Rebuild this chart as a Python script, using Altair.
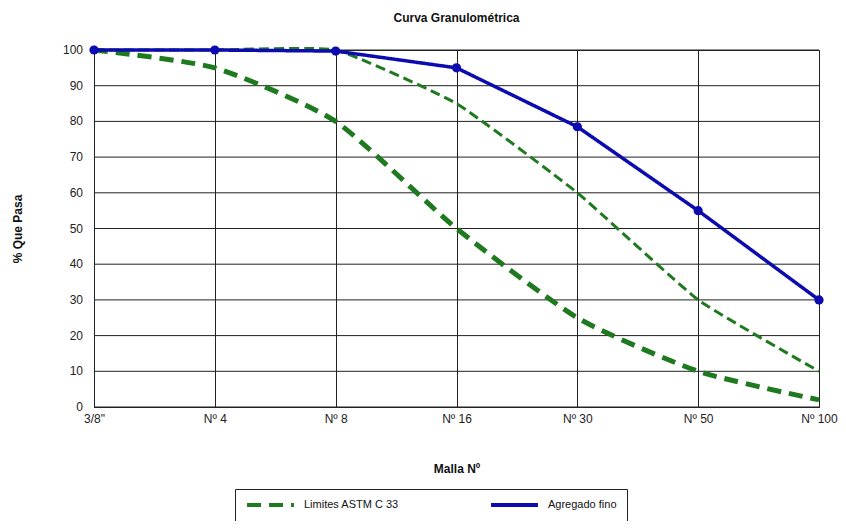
import altair as alt
import pandas as pd

mallas = ['3/8"', "Nº 4", "Nº 8", "Nº 16", "Nº 30", "Nº 50", "Nº 100"]
limite_superior = [100, 100, 100, 85, 60, 30, 10]
limite_inferior = [100, 95, 80, 50, 25, 10, 2]
agregado_fino = [100, 100, 99.7, 95, 78.5, 55, 30]
y_ticks = [0, 10, 20, 30, 40, 50, 60, 70, 80, 90, 100]

GREEN = "#1f7a1f"
BLUE = "#0b0bb0"
SER_LIM = "Limites ASTM C 33"
SER_AG = "Agregado fino"

df_inf = pd.DataFrame({"malla": mallas, "pasa": limite_inferior, "serie": SER_LIM})
df_sup = pd.DataFrame({"malla": mallas, "pasa": limite_superior, "serie": SER_LIM})
df_ag = pd.DataFrame({"malla": mallas, "pasa": agregado_fino, "serie": SER_AG})
df_grid = pd.DataFrame({"pasa": y_ticks})

FONT = "Liberation Sans"

x_enc = alt.X("malla:N", sort=mallas,
              scale=alt.Scale(type="point", padding=0),
              axis=alt.Axis(title="Malla  Nº", labelAngle=0, grid=True, gridColor="#222222",
                            gridOpacity=1, ticks=False, labelPadding=6, titlePadding=39,
                            domainColor="#222222", labelFontSize=12, titleFontSize=12,
                            titleFontWeight="bold", labelColor="#222", titleColor="#111"))
y_scale = alt.Scale(domain=[0, 100], nice=False)
y_axis = alt.Axis(title="% Que Pasa", labels=False, grid=False, ticks=False,
                  titlePadding=70, domainColor="#222222", titleFontSize=12,
                  titleFontWeight="bold", titleColor="#111")
y_enc = alt.Y("pasa:Q", scale=y_scale, axis=y_axis)

color_scale = alt.Scale(domain=[SER_LIM, SER_AG], range=[GREEN, BLUE])
dash_scale = alt.Scale(domain=[SER_LIM, SER_AG], range=[[14, 8], [1, 0]])

legend = alt.Legend(orient="none", legendX=141, legendY=439, direction="horizontal",
                    strokeColor="#222", padding=10, columnPadding=90, clipHeight=12,
                    symbolType="stroke", symbolSize=2200, symbolStrokeWidth=4,
                    labelFontSize=11, labelOffset=8, labelColor="#111", fillColor="white")

grid = alt.Chart(df_grid).mark_rule(color="#222222", strokeWidth=1).encode(y=y_enc)

ylabels = alt.Chart(df_grid).mark_text(align="right", baseline="middle", fontSize=12,
                                       dx=-11, color="#222", font=FONT).encode(
    x=alt.value(0), y=y_enc, text=alt.Text("pasa:Q"))

inf = alt.Chart(df_inf).mark_line(interpolate="cardinal", tension=0.4, strokeWidth=5,
                                  strokeCap="butt").encode(
    x=x_enc, y=y_enc,
    color=alt.Color("serie:N", scale=color_scale, title=None, legend=legend),
    strokeDash=alt.StrokeDash("serie:N", title=None, scale=dash_scale),
)

sup = alt.Chart(df_sup).mark_line(interpolate="cardinal", tension=0.6, strokeDash=[10, 5],
                                  strokeWidth=3, strokeCap="butt").encode(
    x=x_enc, y=y_enc,
    color=alt.Color("serie:N", scale=color_scale),
)

ag = alt.Chart(df_ag).mark_line(strokeWidth=3.5).encode(
    x=x_enc, y=y_enc,
    color=alt.Color("serie:N", scale=color_scale),
    strokeDash=alt.StrokeDash("serie:N", scale=dash_scale),
)

pts = alt.Chart(df_ag).mark_point(filled=True, size=85, opacity=1).encode(
    x=x_enc, y=y_enc,
    color=alt.value(BLUE),
)

chart = alt.layer(grid, ylabels, inf, sup, ag, pts).properties(
    width=725, height=357,
    autosize=alt.AutoSizeParams(type="none"),
    padding={"left": 86, "top": 42, "right": 19, "bottom": 114},
    title=alt.Title("Curva Granulométrica", fontSize=12, fontWeight="bold", font=FONT,
                    offset=15, color="#111"),
).configure(font=FONT).configure_view(stroke="#222222")

chart.save("out.html", embed_options={"renderer": "svg", "actions": False})
